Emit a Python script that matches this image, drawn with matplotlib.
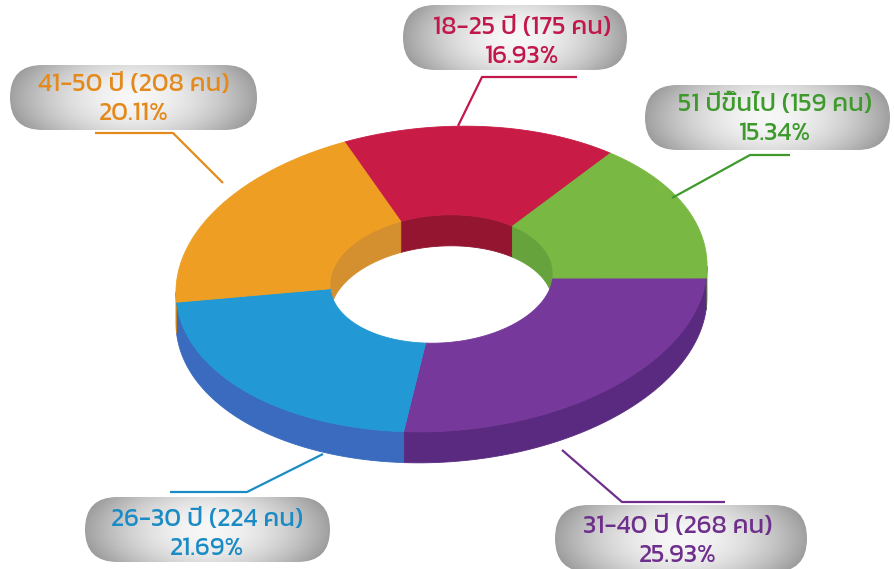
import numpy as np
import matplotlib
matplotlib.use("Agg")
import matplotlib.pyplot as plt
from matplotlib.patches import Polygon, FancyBboxPatch

# ---- data ----
groups = ["18-25 ปี", "51 ปีขึ้นไป", "31-40 ปี", "26-30 ปี", "41-50 ปี"]
counts = [175, 159, 268, 224, 208]
percents = ["16.93%", "15.34%", "25.93%", "21.69%", "20.11%"]

# ---- style ----
top_colors = ["#C81B46", "#78B843", "#76389A", "#2299D5", "#EE9E22"]
side_colors = ["#9A1535", "#5E9A35", "#5A2A80", "#3A6BBF", "#C9841E"]
inner_colors = ["#94152F", "#66A33C", "#5E2C7E", "#2A7DB0", "#D4902E"]
text_colors = ["#C2174A", "#3E9A2C", "#6E2F8C", "#1A8BC4", "#E48A1C"]

W, H = 894, 569
fig = plt.figure(figsize=(W / 100, H / 100), dpi=100)
ax = fig.add_axes([0, 0, 1, 1])
ax.set_xlim(0, W)
ax.set_ylim(H, 0)
ax.axis("off")

cx, cy = 441.5, 279.0
A, B = 266.0, 152.0
inner = 0.42
depth = 31.0
phi = np.radians(4.2)
start = 109.0


def proj(t_deg, r, dz=0.0):
    t = np.radians(t_deg)
    u = A * r * np.cos(t)
    v = B * r * np.sin(t)
    dx = u * np.cos(phi) - v * np.sin(phi)
    dy = u * np.sin(phi) + v * np.cos(phi)
    return np.column_stack([cx + dx, cy - dy + dz])


t_sil = -np.degrees(np.arctan(B * np.sin(phi) / (A * np.cos(phi))))  # right silhouette
front_lo = t_sil + 180.0  # front range: front_lo -> front_lo+180 (ccw)

total = float(sum(counts))
spans = [c / total * 360.0 for c in counts]
bounds = []
t0 = start
for s in spans:
    bounds.append((t0, t0 - s))
    t0 -= s

# outer side walls (front half)
for (t1, t2), col in zip(bounds, side_colors):
    ts = np.linspace(t1, t2, 800)
    m = ((ts - front_lo) % 360.0) <= 180.0
    if m.sum() < 2:
        continue
    tv = ts[m]
    topc = proj(tv, 1.0)
    botc = proj(tv, 1.0, depth)
    poly = np.vstack([topc, botc[::-1]])
    ax.add_patch(Polygon(poly, closed=True, facecolor=col, edgecolor=col, lw=0.6))

# inner walls (back half, seen through hole)
for (t1, t2), col in zip(bounds, inner_colors):
    ts = np.linspace(t1, t2, 800)
    m = ((ts - t_sil) % 360.0) <= 180.0
    if m.sum() < 2:
        continue
    tv = ts[m]
    topc = proj(tv, inner)
    botc = proj(tv, inner, depth)
    poly = np.vstack([topc, botc[::-1]])
    ax.add_patch(Polygon(poly, closed=True, facecolor=col, edgecolor=col, lw=0.6))

# top surfaces
for (t1, t2), col in zip(bounds, top_colors):
    ts = np.linspace(t1, t2, 400)
    poly = np.vstack([proj(ts, 1.0), proj(ts[::-1], inner)])
    ax.add_patch(Polygon(poly, closed=True, facecolor=col, edgecolor=col, lw=0.6))

# ---- label layout ----
boxes = [  # x0, y0, x1, y1 (pixels)
    (403, 5, 627, 70),
    (645, 85, 890, 150),
    (555, 505, 807, 572),
    (85, 497, 330, 562),
    (10, 65, 257, 130),
]
text_cx = [522, 775, 678, 207, 134]
line1_y = [28, 105, 527, 520, 85]
line2_y = [57, 134, 556, 549, 114]
leaders = [
    [(577, 77), (482, 77), (458, 126)],
    [(790, 155), (750, 155), (672, 198)],
    [(725, 502), (622, 502), (562, 450)],
    [(170, 492), (247, 492), (323, 454)],
    [(95, 133), (173, 133), (223, 183)],
]

ny, nx = 60, 200
gx = np.linspace(-1, 1, nx)
gy = np.linspace(-1, 1, ny)
GX, GY = np.meshgrid(gx, gy)
val = 0.97 - 0.34 * np.abs(GX) ** 1.8 - 0.10 * GY ** 2
val = np.clip(val, 0, 1)
grad = np.dstack([val, val, val])

font = ["Kanit", "DejaVu Sans"]

for i in range(len(groups)):
    x0, y0, x1, y1 = boxes[i]
    bw, bh = x1 - x0, y1 - y0
    pill = FancyBboxPatch((x0, y0), bw, bh,
                          boxstyle="round,pad=0,rounding_size=%f" % (bh / 2.0),
                          facecolor="none", edgecolor="none")
    ax.add_patch(pill)
    im = ax.imshow(grad, extent=(x0, x1, y1, y0), aspect="auto",
                   interpolation="bilinear", zorder=2)
    im.set_clip_path(pill)
    pts = np.array(leaders[i])
    ax.plot(pts[:, 0], pts[:, 1], color=text_colors[i], lw=1.6,
            solid_capstyle="butt", zorder=3)
    ax.text(text_cx[i], line1_y[i], "%s (%d คน)" % (groups[i], counts[i]),
            ha="center", va="center", fontsize=18.5, color=text_colors[i],
            family=font, zorder=4)
    ax.text(text_cx[i], line2_y[i], percents[i],
            ha="center", va="center", fontsize=18.5, color=text_colors[i],
            family=font, zorder=4)

ax.set_xlim(0, W)
ax.set_ylim(H, 0)
fig.savefig("out.png", dpi=100)
